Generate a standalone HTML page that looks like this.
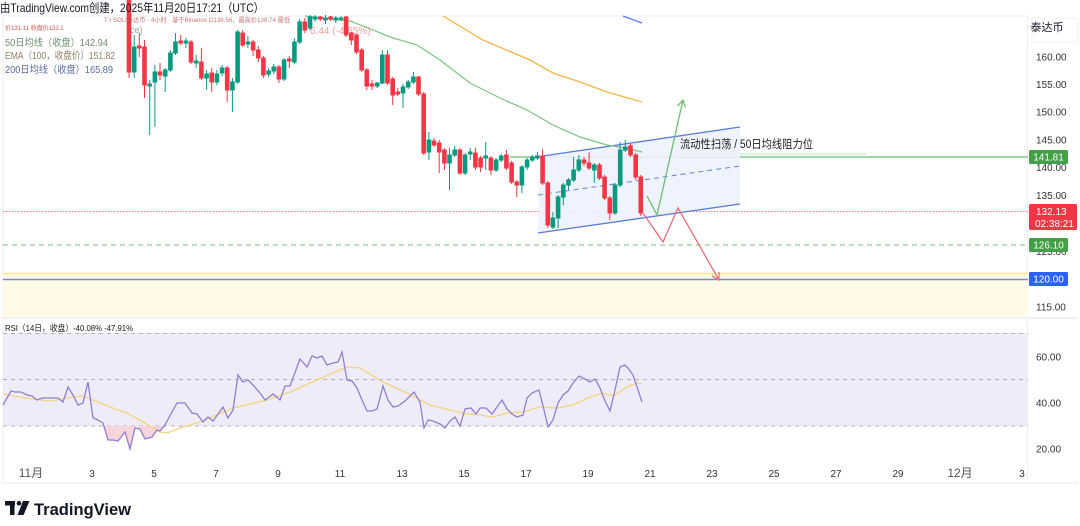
<!DOCTYPE html>
<html><head><meta charset="utf-8"><style>
html,body{margin:0;padding:0;background:#fff;}
body{width:1080px;height:526px;overflow:hidden;}
svg{display:block;font-family:"Liberation Sans","Noto Sans CJK SC",sans-serif;}
</style></head><body>
<svg width="1080" height="526" viewBox="0 0 1080 526" xmlns="http://www.w3.org/2000/svg">
<rect width="1080" height="526" fill="#fff"/>
<!-- frame -->
<line x1="3" y1="16" x2="1027" y2="16" stroke="#f0f1f4" stroke-width="1"/>
<line x1="3" y1="318" x2="1078" y2="318" stroke="#e0e3eb" stroke-width="1"/>
<line x1="3" y1="483" x2="1078" y2="483" stroke="#e6e8ee" stroke-width="1"/>
<line x1="3" y1="16" x2="3" y2="483" stroke="#eceef2" stroke-width="1"/>
<line x1="1027.5" y1="16" x2="1027.5" y2="483" stroke="#f0f1f4" stroke-width="1"/>

<!-- yellow zone -->
<rect x="3" y="273" width="1025" height="44" fill="#fffae6"/>
<line x1="3" y1="273.5" x2="1028" y2="273.5" stroke="#fbecac" stroke-width="2"/>
<line x1="3" y1="279.5" x2="1028" y2="279.5" stroke="#6f8ad8" stroke-width="1.5"/>

<!-- horizontal levels -->
<line x1="3" y1="211.5" x2="1028" y2="211.5" stroke="#f0606e" stroke-width="1" stroke-dasharray="1.5 1.5" opacity="0.85"/>
<line x1="3" y1="245" x2="1028" y2="245" stroke="#8fcc96" stroke-width="1.3" stroke-dasharray="5 4"/>
<line x1="510" y1="157" x2="1028" y2="157" stroke="#6bbf73" stroke-width="1.2"/>
<line x1="680" y1="154" x2="866" y2="154" stroke="#b9e0bc" stroke-width="1"/>

<!-- channel -->
<polygon points="540,156 740,127 740,204 538,233" fill="#edf2fd" opacity="0.9"/>
<line x1="543" y1="156" x2="740" y2="127" stroke="#5b7bd8" stroke-width="1.3"/>
<line x1="538" y1="233" x2="740" y2="204" stroke="#5b7bd8" stroke-width="1.3"/>
<line x1="538" y1="195" x2="740" y2="166" stroke="#6f8ad8" stroke-width="1.1" stroke-dasharray="5 4"/>

<!-- moving averages -->
<polyline fill="none" stroke="#5c7cfa" stroke-width="1.3" points="623,16 642,23"/>
<polyline fill="none" stroke="#f6b54a" stroke-width="1.3" points="443,16 483,40 530,60 553,73 580,82 607,92 642,102"/>
<polyline fill="none" stroke="#7cc47f" stroke-width="1.2" points="305,16 330,19 350,21 373,30 390,37 417,45 440,60 470,83 500,98 527,110 553,125 580,137 607,145 625,148 642,152"/>

<!-- candles green -->
<g stroke="#089981" fill="#089981" stroke-width="1">
<line x1="134.2" y1="35" x2="134.2" y2="78"/><rect x="132.4" y="47" width="3.6" height="25"/>
<line x1="149.7" y1="80" x2="149.7" y2="135"/><rect x="147.9" y="84" width="3.6" height="2"/>
<line x1="154.9" y1="65" x2="154.9" y2="127"/><rect x="153.1" y="72" width="3.6" height="10"/>
<line x1="165.2" y1="68" x2="165.2" y2="92"/><rect x="163.4" y="70" width="3.6" height="6"/>
<line x1="170.4" y1="50" x2="170.4" y2="72"/><rect x="168.6" y="53" width="3.6" height="17"/>
<line x1="175.5" y1="33" x2="175.5" y2="55"/><rect x="173.7" y="42" width="3.6" height="11"/>
<line x1="185.9" y1="38" x2="185.9" y2="48"/><rect x="184.1" y="41" width="3.6" height="2"/>
<line x1="196.2" y1="55" x2="196.2" y2="68"/><rect x="194.4" y="61" width="3.6" height="2"/>
<line x1="206.6" y1="70" x2="206.6" y2="90"/><rect x="204.8" y="74" width="3.6" height="4"/>
<line x1="216.9" y1="70" x2="216.9" y2="85"/><rect x="215.1" y="74" width="3.6" height="8"/>
<line x1="222.1" y1="65" x2="222.1" y2="76"/><rect x="220.3" y="68" width="3.6" height="5"/>
<line x1="232.4" y1="78" x2="232.4" y2="112"/><rect x="230.6" y="82" width="3.6" height="8"/>
<line x1="237.6" y1="30" x2="237.6" y2="84"/><rect x="235.8" y="32" width="3.6" height="50"/>
<line x1="247.9" y1="36" x2="247.9" y2="48"/><rect x="246.1" y="42" width="3.6" height="2"/>
<line x1="268.6" y1="68" x2="268.6" y2="77"/><rect x="266.8" y="71" width="3.6" height="3"/>
<line x1="273.8" y1="64" x2="273.8" y2="74"/><rect x="272" y="67" width="3.6" height="4"/>
<line x1="284.1" y1="58" x2="284.1" y2="81"/><rect x="282.3" y="60" width="3.6" height="19"/>
<line x1="294.4" y1="38" x2="294.4" y2="64"/><rect x="292.6" y="42" width="3.6" height="20"/>
<line x1="299.6" y1="19" x2="299.6" y2="44"/><rect x="297.8" y="22" width="3.6" height="20"/>
<line x1="310" y1="15" x2="310" y2="30"/><rect x="308.2" y="17" width="3.6" height="11"/>
<line x1="315.1" y1="15" x2="315.1" y2="22"/><rect x="313.3" y="17" width="3.6" height="2"/>
<line x1="325.5" y1="15" x2="325.5" y2="24"/><rect x="323.7" y="18" width="3.6" height="2"/>
<line x1="335.8" y1="16" x2="335.8" y2="23"/><rect x="334" y="18" width="3.6" height="2"/>
<line x1="341" y1="16" x2="341" y2="21"/><rect x="339.2" y="18" width="3.6" height="1.2"/>
<line x1="377.2" y1="82" x2="377.2" y2="88"/><rect x="375.4" y="83" width="3.6" height="3"/>
<line x1="382.3" y1="50" x2="382.3" y2="84"/><rect x="380.5" y="55" width="3.6" height="28"/>
<line x1="403" y1="84" x2="403" y2="108"/><rect x="401.2" y="87" width="3.6" height="6"/>
<line x1="408.2" y1="80" x2="408.2" y2="89"/><rect x="406.4" y="82" width="3.6" height="5"/>
<line x1="413.4" y1="72" x2="413.4" y2="84"/><rect x="411.6" y="77" width="3.6" height="5"/>
<line x1="428.9" y1="132" x2="428.9" y2="160"/><rect x="427.1" y="140" width="3.6" height="12"/>
<line x1="449.5" y1="148" x2="449.5" y2="190"/><rect x="447.7" y="155" width="3.6" height="8"/>
<line x1="454.7" y1="146" x2="454.7" y2="157"/><rect x="452.9" y="150" width="3.6" height="5"/>
<line x1="465.1" y1="153" x2="465.1" y2="175"/><rect x="463.3" y="155" width="3.6" height="18"/>
<line x1="470.2" y1="148" x2="470.2" y2="160"/><rect x="468.4" y="152" width="3.6" height="2"/>
<line x1="485.7" y1="142" x2="485.7" y2="170"/><rect x="483.9" y="156" width="3.6" height="2"/>
<line x1="496.1" y1="158" x2="496.1" y2="172"/><rect x="494.3" y="160" width="3.6" height="10"/>
<line x1="501.2" y1="154" x2="501.2" y2="162"/><rect x="499.4" y="156" width="3.6" height="4"/>
<line x1="521.9" y1="165" x2="521.9" y2="193"/><rect x="520.1" y="167" width="3.6" height="18"/>
<line x1="527.1" y1="158" x2="527.1" y2="170"/><rect x="525.3" y="160" width="3.6" height="7"/>
<line x1="532.3" y1="155" x2="532.3" y2="162"/><rect x="530.5" y="157" width="3.6" height="3"/>
<line x1="537.4" y1="152" x2="537.4" y2="160"/><rect x="535.6" y="156" width="3.6" height="2"/>
<line x1="552.9" y1="212" x2="552.9" y2="229"/><rect x="551.1" y="218" width="3.6" height="9"/>
<line x1="558.1" y1="195" x2="558.1" y2="228"/><rect x="556.3" y="197" width="3.6" height="21"/>
<line x1="563.3" y1="183" x2="563.3" y2="205"/><rect x="561.5" y="185" width="3.6" height="12"/>
<line x1="568.5" y1="178" x2="568.5" y2="190"/><rect x="566.7" y="180" width="3.6" height="5"/>
<line x1="573.6" y1="157" x2="573.6" y2="182"/><rect x="571.8" y="170" width="3.6" height="10"/>
<line x1="578.8" y1="155" x2="578.8" y2="172"/><rect x="577" y="160" width="3.6" height="10"/>
<line x1="594.3" y1="163" x2="594.3" y2="183"/><rect x="592.5" y="165" width="3.6" height="5"/>
<line x1="615" y1="183" x2="615" y2="215"/><rect x="613.2" y="185" width="3.6" height="28"/>
<line x1="620.2" y1="142" x2="620.2" y2="187"/><rect x="618.4" y="150" width="3.6" height="35"/>
<line x1="625.3" y1="140" x2="625.3" y2="152"/><rect x="623.5" y="147" width="3.6" height="3"/>
</g>
<!-- candles red -->
<g stroke="#f23645" fill="#f23645" stroke-width="1">
<line x1="129" y1="0" x2="129" y2="78"/><rect x="127.2" y="0" width="3.6" height="72"/>
<line x1="139.3" y1="33" x2="139.3" y2="57"/><rect x="137.5" y="46" width="3.6" height="2"/>
<line x1="144.5" y1="40" x2="144.5" y2="98"/><rect x="142.7" y="47" width="3.6" height="38"/>
<line x1="160" y1="63" x2="160" y2="80"/><rect x="158.2" y="72" width="3.6" height="3"/>
<line x1="180.7" y1="35" x2="180.7" y2="45"/><rect x="178.9" y="41" width="3.6" height="2"/>
<line x1="191" y1="40" x2="191" y2="64"/><rect x="189.2" y="42" width="3.6" height="20"/>
<line x1="201.4" y1="48" x2="201.4" y2="80"/><rect x="199.6" y="62" width="3.6" height="16"/>
<line x1="211.7" y1="68" x2="211.7" y2="92"/><rect x="209.9" y="73" width="3.6" height="9"/>
<line x1="227.2" y1="66" x2="227.2" y2="102"/><rect x="225.4" y="68" width="3.6" height="22"/>
<line x1="242.7" y1="30" x2="242.7" y2="47"/><rect x="240.9" y="33" width="3.6" height="12"/>
<line x1="253.1" y1="40" x2="253.1" y2="56"/><rect x="251.3" y="42" width="3.6" height="8"/>
<line x1="258.3" y1="46" x2="258.3" y2="62"/><rect x="256.5" y="50" width="3.6" height="8"/>
<line x1="263.4" y1="56" x2="263.4" y2="78"/><rect x="261.6" y="58" width="3.6" height="17"/>
<line x1="278.9" y1="65" x2="278.9" y2="83"/><rect x="277.1" y="67" width="3.6" height="12"/>
<line x1="289.3" y1="56" x2="289.3" y2="68"/><rect x="287.5" y="59" width="3.6" height="2"/>
<line x1="304.8" y1="18" x2="304.8" y2="33"/><rect x="303" y="22" width="3.6" height="8"/>
<line x1="320.3" y1="16" x2="320.3" y2="21"/><rect x="318.5" y="17" width="3.6" height="2"/>
<line x1="330.6" y1="16" x2="330.6" y2="21"/><rect x="328.8" y="17" width="3.6" height="2"/>
<line x1="346.1" y1="16" x2="346.1" y2="37"/><rect x="344.3" y="17" width="3.6" height="18"/>
<line x1="351.3" y1="32" x2="351.3" y2="45"/><rect x="349.5" y="33" width="3.6" height="7"/>
<line x1="356.5" y1="34" x2="356.5" y2="54"/><rect x="354.7" y="35" width="3.6" height="17"/>
<line x1="361.7" y1="48" x2="361.7" y2="72"/><rect x="359.9" y="50" width="3.6" height="20"/>
<line x1="366.8" y1="68" x2="366.8" y2="90"/><rect x="365" y="70" width="3.6" height="16"/>
<line x1="372" y1="80" x2="372" y2="90"/><rect x="370.2" y="84" width="3.6" height="2"/>
<line x1="387.5" y1="50" x2="387.5" y2="85"/><rect x="385.7" y="55" width="3.6" height="28"/>
<line x1="392.7" y1="77" x2="392.7" y2="105"/><rect x="390.9" y="79" width="3.6" height="16"/>
<line x1="397.8" y1="88" x2="397.8" y2="96"/><rect x="396" y="92" width="3.6" height="2"/>
<line x1="418.5" y1="76" x2="418.5" y2="96"/><rect x="416.7" y="77" width="3.6" height="17"/>
<line x1="423.7" y1="92" x2="423.7" y2="155"/><rect x="421.9" y="94" width="3.6" height="59"/>
<line x1="434" y1="138" x2="434" y2="147"/><rect x="432.2" y="141" width="3.6" height="4"/>
<line x1="439.2" y1="140" x2="439.2" y2="173"/><rect x="437.4" y="143" width="3.6" height="9"/>
<line x1="444.4" y1="148" x2="444.4" y2="170"/><rect x="442.6" y="150" width="3.6" height="13"/>
<line x1="459.9" y1="148" x2="459.9" y2="175"/><rect x="458.1" y="150" width="3.6" height="23"/>
<line x1="475.4" y1="148" x2="475.4" y2="170"/><rect x="473.6" y="153" width="3.6" height="14"/>
<line x1="480.6" y1="156" x2="480.6" y2="172"/><rect x="478.8" y="158" width="3.6" height="9"/>
<line x1="490.9" y1="156" x2="490.9" y2="175"/><rect x="489.1" y="158" width="3.6" height="12"/>
<line x1="506.4" y1="150" x2="506.4" y2="170"/><rect x="504.6" y="155" width="3.6" height="13"/>
<line x1="511.6" y1="161" x2="511.6" y2="184"/><rect x="509.8" y="163" width="3.6" height="19"/>
<line x1="516.8" y1="180" x2="516.8" y2="197"/><rect x="515" y="182" width="3.6" height="3"/>
<line x1="542.6" y1="149" x2="542.6" y2="185"/><rect x="540.8" y="156" width="3.6" height="27"/>
<line x1="547.8" y1="181" x2="547.8" y2="228"/><rect x="546" y="183" width="3.6" height="42"/>
<line x1="584" y1="157" x2="584" y2="166"/><rect x="582.2" y="160" width="3.6" height="3"/>
<line x1="589.1" y1="152" x2="589.1" y2="170"/><rect x="587.3" y="163" width="3.6" height="5"/>
<line x1="599.5" y1="163" x2="599.5" y2="180"/><rect x="597.7" y="165" width="3.6" height="13"/>
<line x1="604.6" y1="175" x2="604.6" y2="200"/><rect x="602.8" y="177" width="3.6" height="21"/>
<line x1="609.8" y1="196" x2="609.8" y2="220"/><rect x="608" y="198" width="3.6" height="15"/>
<line x1="630.5" y1="144" x2="630.5" y2="157"/><rect x="628.7" y="146" width="3.6" height="9"/>
<line x1="635.7" y1="153" x2="635.7" y2="180"/><rect x="633.9" y="155" width="3.6" height="22"/>
<line x1="640.8" y1="175" x2="640.8" y2="216"/><rect x="639" y="177" width="3.6" height="36"/>
</g>

<!-- projection arrows -->
<polyline fill="none" stroke="#6cbf70" stroke-width="1.3" points="647,196 657,215 683,100"/>
<polyline fill="none" stroke="#6cbf70" stroke-width="1.3" points="677.6,105.9 683,100 685.4,107.6"/>
<polyline fill="none" stroke="#ec6f7a" stroke-width="1.3" points="643,213 663,242 678,208 719,280"/>
<polyline fill="none" stroke="#ec6f7a" stroke-width="1.3" points="719,272 719,280 712,276"/>

<text x="680" y="148" font-size="11.5" fill="#1e1e1e" textLength="133" lengthAdjust="spacingAndGlyphs">流动性扫荡 / 50日均线阻力位</text>

<!-- header texts -->
<text x="0" y="12" font-size="12" fill="#131722" textLength="264" lengthAdjust="spacingAndGlyphs">由TradingView.com创建，2025年11月20日17:21（UTC）</text>
<text x="104" y="22" font-size="6.5" fill="#b94a4a" opacity="0.75" textLength="186" lengthAdjust="spacingAndGlyphs">T t SOL/泰达币 · 4小时 · 基于Binance O138.56，最高价138.74 最低</text>
<text x="5" y="30" font-size="6" fill="#c0392b" opacity="0.85">价131.11 收盘价132.1</text>
<text x="130" y="33" font-size="9" fill="#666" opacity="0.6">ce)</text>
<text x="310" y="34" font-size="10" fill="#e05050" opacity="0.55">6.44 (-4.65%)</text>
<text x="5" y="46" font-size="10" fill="#6f8f6f" textLength="103" lengthAdjust="spacingAndGlyphs">50日均线（收盘）142.94</text>
<text x="5" y="59" font-size="10" fill="#8f7f5f" textLength="110" lengthAdjust="spacingAndGlyphs">EMA（100，收盘价）151.82</text>
<text x="5" y="73" font-size="10" fill="#5a6b9c" textLength="108" lengthAdjust="spacingAndGlyphs">200日均线（收盘）165.89</text>

<!-- right axis -->
<rect x="1032" y="18" width="46" height="24" fill="none" stroke="#f2f2f2"/>
<text x="1047" y="31" font-size="11" fill="#131722" text-anchor="middle">泰达币</text>
<g font-size="10" fill="#333" text-anchor="start">
<text x="1036" y="60.5">160.00</text>
<text x="1036" y="88">155.00</text>
<text x="1036" y="115.5">150.00</text>
<text x="1036" y="143.5">145.00</text>
<text x="1036" y="171">140.00</text>
<text x="1036" y="199">135.00</text>
<text x="1036" y="255">125.00</text>
<text x="1036" y="310.5">115.00</text>
</g>
<rect x="1029" y="150" width="39" height="14" rx="1.5" fill="#43a047"/>
<text x="1048.5" y="160.5" font-size="10" fill="#fff" text-anchor="middle">141.81</text>
<rect x="1029" y="204" width="48" height="26" rx="1.5" fill="#f23645"/>
<text x="1036" y="215" font-size="10" fill="#fff">132.13</text>
<text x="1035" y="227" font-size="10" fill="#fff">02:38:21</text>
<rect x="1029" y="238" width="39" height="14" rx="1.5" fill="#43a047"/>
<text x="1048.5" y="248.5" font-size="10" fill="#fff" text-anchor="middle">126.10</text>
<rect x="1029" y="272" width="39" height="14" rx="1.5" fill="#2962ff"/>
<text x="1048.5" y="282.5" font-size="10" fill="#fff" text-anchor="middle">120.00</text>

<!-- RSI pane -->
<rect x="3" y="333" width="1025" height="93" fill="#efecf9"/>
<g stroke="#b4b2bd" stroke-width="1" stroke-dasharray="4 4">
<line x1="3" y1="333.5" x2="1028" y2="333.5"/>
<line x1="3" y1="379.5" x2="1028" y2="379.5"/>
<line x1="3" y1="426" x2="1028" y2="426"/>
</g>
<polygon points="101,426 103,423 108,440 113,440 118,441 125,432 130,449 135,428 136,426" fill="#f7d3dc"/>
<polygon points="136,426 140,429 145,439 152,437 157,430 160,431 164,426" fill="#f7d3dc"/>
<polyline fill="none" stroke="#f3d57e" stroke-width="1.3" points="3,394 20,397 33,399 50,401 67,398 82,396 93,400 110,407 127,413 143,422 160,432 167,433 180,428 200,422 233,408 267,400 290,392 317,380 333,373 347,367 360,368 383,382 407,393 430,405 450,410 467,414 480,415 493,417 507,413 523,412 540,407 557,408 573,405 590,397 603,393 613,396 627,387 637,383 642,384"/>
<polyline fill="none" stroke="#8f7fcf" stroke-width="1.3" points="3,405 11,391 15,392 21,392 27,395 32,396 37,400 42,398 47,398 53,398 58,398 63,402 68,387 73,395 78,405 83,403 88,382 93,418 98,420 103,423 108,440 113,440 118,441 125,432 130,449 135,428 140,429 145,439 152,437 157,430 160,431 165,425 172,412 177,403 185,403 192,413 197,414 203,422 208,417 213,421 223,407 228,418 233,410 238,375 243,382 248,380 253,385 260,393 265,400 273,394 280,400 285,386 290,386 300,359 307,367 312,356 317,358 322,356 327,365 333,363 338,362 342,352 347,380 352,381 357,388 362,400 367,411 372,411 377,409 383,386 388,400 393,407 398,406 405,401 414,392 420,402 424,428 428,420 433,421 440,424 445,428 450,421 455,417 460,426 465,409 471,408 476,414 480,408 486,408 492,414 502,400 507,409 512,414 517,417 523,415 527,398 532,393 539,390 544,410 548,427 553,420 558,403 563,395 568,391 573,383 579,376 585,379 590,382 595,379 600,388 605,401 610,411 615,390 620,367 625,365 628,368 633,375 642,402"/>
<text x="5" y="331" font-size="8.5" fill="#131722" textLength="128" lengthAdjust="spacingAndGlyphs">RSI（14日，收盘）-40.08% -47.91%</text>
<g font-size="10" fill="#333">
<text x="1036" y="360.5">60.00</text>
<text x="1036" y="406.5">40.00</text>
<text x="1036" y="452.5">20.00</text>
</g>

<!-- time axis -->
<g font-size="10" fill="#333" text-anchor="middle">
<text x="31" y="477" font-size="12" fill="#555">11月</text>
<text x="92" y="477">3</text>
<text x="154" y="477">5</text>
<text x="216" y="477">7</text>
<text x="278" y="477">9</text>
<text x="340" y="477">11</text>
<text x="402" y="477">13</text>
<text x="464" y="477">15</text>
<text x="526" y="477">17</text>
<text x="588" y="477">19</text>
<text x="650" y="477">21</text>
<text x="712" y="477">23</text>
<text x="774" y="477">25</text>
<text x="836" y="477">27</text>
<text x="898" y="477">29</text>
<text x="960" y="477" font-size="12" fill="#555">12月</text>
<text x="1022" y="477">3</text>
</g>

<!-- logo -->
<g fill="#131722">
<rect x="5" y="501" width="10" height="4.5"/>
<rect x="10" y="501" width="4.5" height="14"/>
<circle cx="19" cy="503.2" r="2.3"/>
<polygon points="23,501 29.5,501 23.5,515 17.5,515"/>
</g>
<text x="34" y="515" font-size="17" font-weight="bold" fill="#131722" textLength="97" lengthAdjust="spacingAndGlyphs">TradingView</text>
</svg>
</body></html>
